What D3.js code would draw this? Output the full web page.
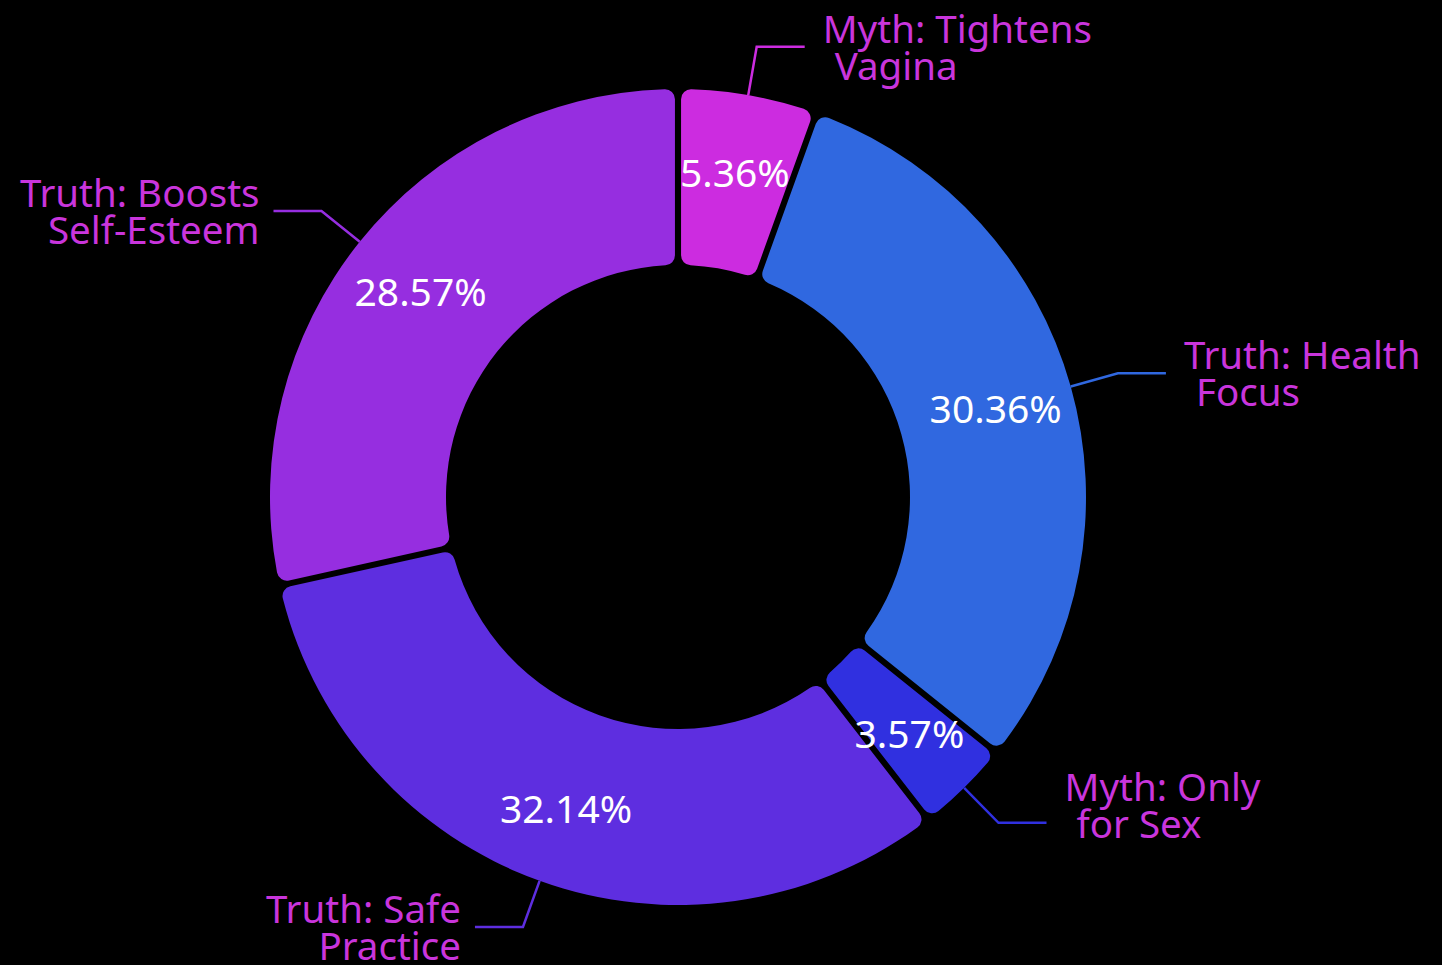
<!DOCTYPE html>
<html>
<head>
<meta charset="utf-8">
<script src="https://cdn.jsdelivr.net/npm/d3@7"></script>
<style>
  html, body { margin: 0; padding: 0; background: #000; }
  svg { display: block; }
</style>
</head>
<body>
<svg id="chart" width="1442" height="965"></svg>
<script>
const categories = ["Myth: Tightens Vagina", "Truth: Health Focus", "Myth: Only for Sex", "Truth: Safe Practice", "Truth: Boosts Self-Esteem"];
const labelLine1 = ["Myth: Tightens", "Truth: Health", "Myth: Only", "Truth: Safe", "Truth: Boosts"];
const labelLine2 = ["Vagina", "Focus", "for Sex", "Practice", "Self-Esteem"];
const values = [3, 17, 2, 18, 16];
const colors = ["#cc2ce0", "#3068e0", "#3030e0", "#5e2ee0", "#962ee0"];

const W = 1442, H = 965;
const cx = 678, cy = 497;
const outerR = 408, innerR = 232;
const fontFamily = "'Noto Sans', 'Open Sans', sans-serif";
const labelFont = 38.5;
const pctFont = 39;
const textColor = "#c935dc";

const svg = d3.select("#chart");
svg.append("rect").attr("width", W).attr("height", H).attr("fill", "#000");
const g = svg.append("g").attr("transform", `translate(${cx},${cy})`);

const total = d3.sum(values);
const data = categories.map((c, i) => ({ name: c, value: values[i], color: colors[i], l1: labelLine1[i], l2: labelLine2[i] }));

const pie = d3.pie().value(d => d.value).sort(null).padAngle(0.013);
const arcs = pie(data);

const arc = d3.arc().innerRadius(innerR).outerRadius(outerR).cornerRadius(10);

g.selectAll("path.slice").data(arcs).join("path")
  .attr("class", "slice")
  .attr("d", arc)
  .attr("fill", d => d.data.color);

// percentage labels
const labelArc = d3.arc().innerRadius(330).outerRadius(330);
g.selectAll("text.pct").data(arcs).join("text")
  .attr("class", "pct")
  .attr("transform", d => `translate(${labelArc.centroid(d)})`)
  .attr("text-anchor", "middle")
  .attr("dominant-baseline", "central")
  .attr("font-family", fontFamily)
  .attr("font-size", pctFont)
  .attr("fill", "#fff")
  .text(d => (d.data.value / total * 100).toFixed(2) + "%");

// leader lines + outside labels
const nudge = [0, 0, 18, 0, 0];
const r1 = outerR, r2 = outerR + 49, hLen = 48;
arcs.forEach((d, i) => {
  const a = (d.startAngle + d.endAngle) / 2;
  const p1 = [r1 * Math.sin(a), -r1 * Math.cos(a)];
  const p2 = [r2 * Math.sin(a), -r2 * Math.cos(a)];
  const right = Math.sin(a) >= 0;
  const p3 = [p2[0] + (right ? hLen : -hLen), p2[1]];
  g.append("path")
    .attr("d", d3.line()([p1, p2, p3]))
    .attr("fill", "none")
    .attr("stroke", d.data.color)
    .attr("stroke-width", 2.5);
  const tx = p3[0] + (right ? 18 : -14);
  const t = g.append("text")
    .attr("x", tx)
    .attr("y", p2[1] - 4 - nudge[i])
    .attr("text-anchor", right ? "start" : "end")
    .attr("font-family", fontFamily)
    .attr("font-size", labelFont)
    .attr("fill", textColor);
  t.append("tspan").attr("x", tx).text(d.data.l1);
  t.append("tspan").attr("x", tx + (right ? 12 : 0)).attr("dy", 37).text(d.data.l2);
});
</script>
</body>
</html>
